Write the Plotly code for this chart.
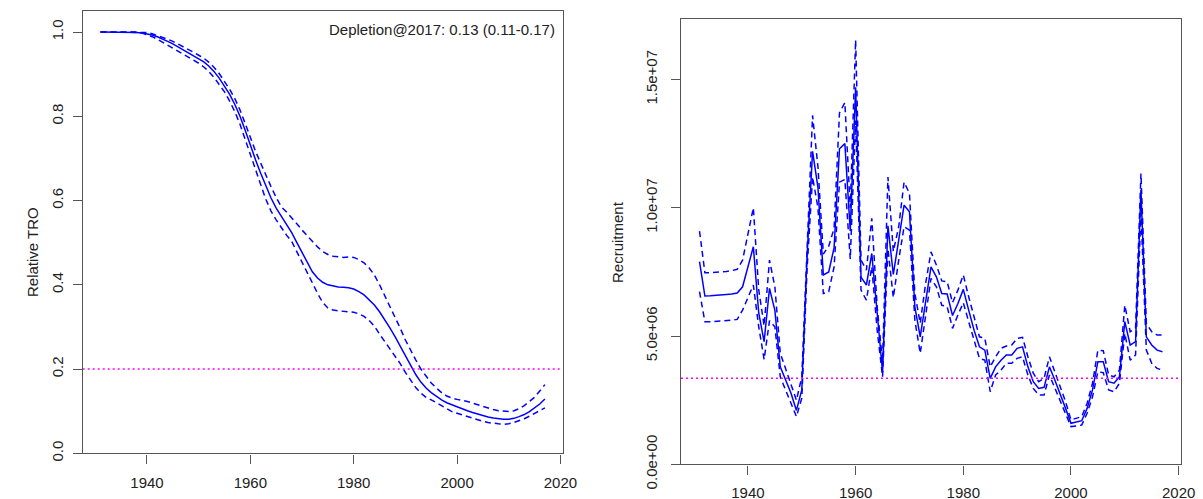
import plotly.graph_objects as go

years = list(range(1931, 2018))

tro_med = [1.000, 1.000, 1.000, 1.000, 1.000, 1.000, 1.000, 0.999, 0.998, 0.996,
           0.993, 0.989, 0.984, 0.978, 0.972, 0.965, 0.958, 0.951, 0.944, 0.937,
           0.929, 0.919, 0.906, 0.890, 0.872, 0.852, 0.828, 0.800, 0.767, 0.730,
           0.697, 0.665, 0.634, 0.606, 0.582, 0.562, 0.545, 0.524, 0.500, 0.476,
           0.452, 0.431, 0.416, 0.406, 0.400, 0.397, 0.395, 0.394, 0.393, 0.390,
           0.384, 0.376, 0.365, 0.352, 0.336, 0.318, 0.298, 0.277, 0.254, 0.231,
           0.208, 0.187, 0.169, 0.155, 0.144, 0.135, 0.127, 0.120, 0.115, 0.111,
           0.106, 0.101, 0.097, 0.093, 0.089, 0.086, 0.084, 0.082, 0.081, 0.081,
           0.083, 0.087, 0.092, 0.099, 0.107, 0.117, 0.129]
tro_up = [1.000, 1.000, 1.000, 1.000, 1.000, 1.000, 1.000, 1.000, 1.000, 0.999,
          0.996, 0.992, 0.988, 0.983, 0.978, 0.972, 0.965, 0.959, 0.952, 0.945,
          0.938, 0.928, 0.916, 0.901, 0.884, 0.864, 0.842, 0.815, 0.783, 0.748,
          0.717, 0.689, 0.660, 0.633, 0.607, 0.585, 0.573, 0.560, 0.545, 0.530,
          0.516, 0.502, 0.490, 0.479, 0.472, 0.468, 0.466, 0.465, 0.466, 0.465,
          0.460, 0.452, 0.440, 0.423, 0.400, 0.375, 0.350, 0.325, 0.297, 0.269,
          0.244, 0.222, 0.200, 0.182, 0.167, 0.155, 0.144, 0.136, 0.131, 0.128,
          0.126, 0.123, 0.119, 0.115, 0.111, 0.107, 0.104, 0.101, 0.100, 0.099,
          0.101, 0.106, 0.113, 0.122, 0.133, 0.148, 0.163]
tro_lo = [1.000, 1.000, 1.000, 1.000, 1.000, 1.000, 1.000, 1.000, 0.998, 0.994,
          0.989, 0.983, 0.976, 0.969, 0.962, 0.954, 0.947, 0.940, 0.933, 0.926,
          0.917, 0.906, 0.892, 0.876, 0.858, 0.836, 0.811, 0.781, 0.745, 0.705,
          0.670, 0.638, 0.603, 0.575, 0.554, 0.535, 0.518, 0.503, 0.478, 0.452,
          0.428, 0.403, 0.380, 0.358, 0.345, 0.340, 0.338, 0.337, 0.336, 0.335,
          0.331, 0.325, 0.315, 0.302, 0.283, 0.266, 0.250, 0.233, 0.213, 0.192,
          0.173, 0.156, 0.143, 0.133, 0.127, 0.120, 0.112, 0.105, 0.099, 0.095,
          0.091, 0.087, 0.083, 0.079, 0.076, 0.073, 0.071, 0.070, 0.069, 0.070,
          0.073, 0.077, 0.082, 0.088, 0.094, 0.101, 0.108]

rec_med = [7.90e6, 6.56e6, 6.57e6, 6.58e6, 6.60e6, 6.62e6, 6.64e6, 6.68e6, 6.92e6, 7.70e6,
           8.48e6, 5.90e6, 4.78e6, 6.86e6, 6.00e6, 3.80e6, 3.29e6, 2.77e6, 2.10e6, 2.90e6,
           8.20e6, 1.22e7, 1.08e7, 7.38e6, 7.50e6, 8.45e6, 1.23e7, 1.25e7, 9.10e6, 1.47e7,
           7.30e6, 6.99e6, 8.22e6, 5.75e6, 3.60e6, 9.30e6, 7.40e6, 8.74e6, 1.01e7, 9.84e6,
           6.14e6, 4.97e6, 6.40e6, 7.70e6, 7.31e6, 6.66e6, 6.64e6, 5.80e6, 6.27e6, 6.82e6,
           6.01e6, 5.23e6, 4.58e6, 4.45e6, 3.35e6, 3.80e6, 4.06e6, 4.26e6, 4.26e6, 4.52e6,
           4.58e6, 3.80e6, 3.22e6, 2.96e6, 3.00e6, 3.80e6, 3.29e6, 2.77e6, 2.18e6, 1.60e6,
           1.66e6, 1.70e6, 2.18e6, 2.90e6, 4.00e6, 4.00e6, 3.22e6, 3.16e6, 3.41e6, 5.56e6,
           4.65e6, 4.78e6, 1.07e7, 4.97e6, 4.65e6, 4.45e6, 4.39e6]
rec_up = [9.09e6, 7.47e6, 7.47e6, 7.48e6, 7.50e6, 7.52e6, 7.55e6, 7.60e6, 7.96e6, 9.00e6,
          1.00e7, 6.80e6, 5.40e6, 7.96e6, 6.92e6, 4.33e6, 3.74e6, 3.16e6, 2.50e6, 3.41e6,
          8.87e6, 1.36e7, 1.16e7, 8.20e6, 8.50e6, 9.20e6, 1.37e7, 1.41e7, 1.00e7, 1.654e7,
          7.96e6, 7.57e6, 9.59e6, 6.14e6, 4.00e6, 1.12e7, 8.30e6, 9.26e6, 1.10e7, 1.056e7,
          6.66e6, 5.50e6, 7.05e6, 8.28e6, 7.77e6, 7.15e6, 7.12e6, 6.30e6, 6.79e6, 7.38e6,
          6.53e6, 5.75e6, 4.97e6, 4.91e6, 3.80e6, 4.19e6, 4.52e6, 4.61e6, 4.65e6, 4.91e6,
          4.95e6, 4.19e6, 3.55e6, 3.22e6, 3.35e6, 4.19e6, 3.61e6, 3.03e6, 2.44e6, 1.73e6,
          1.79e6, 1.86e6, 2.38e6, 3.16e6, 4.45e6, 4.43e6, 3.48e6, 3.41e6, 3.67e6, 6.20e6,
          5.17e6, 5.30e6, 1.134e7, 5.50e6, 5.17e6, 5.04e6, 5.04e6]
rec_lo = [6.73e6, 5.56e6, 5.56e6, 5.57e6, 5.58e6, 5.60e6, 5.62e6, 5.65e6, 6.01e6, 6.50e6,
          6.99e6, 5.36e6, 4.09e6, 5.60e6, 5.36e6, 3.41e6, 2.90e6, 2.38e6, 1.86e6, 2.58e6,
          7.70e6, 1.12e7, 1.00e7, 6.66e6, 6.73e6, 7.70e6, 1.10e7, 1.11e7, 8.00e6, 1.34e7,
          6.79e6, 6.40e6, 7.70e6, 5.23e6, 3.41e6, 8.40e6, 6.50e6, 7.96e6, 9.26e6, 9.13e6,
          5.62e6, 4.33e6, 5.88e6, 7.25e6, 6.92e6, 6.20e6, 6.15e6, 5.30e6, 5.82e6, 6.30e6,
          5.56e6, 4.84e6, 4.13e6, 4.06e6, 2.83e6, 3.48e6, 3.67e6, 3.94e6, 3.94e6, 4.13e6,
          4.19e6, 3.48e6, 2.96e6, 2.70e6, 2.70e6, 3.48e6, 2.96e6, 2.44e6, 1.92e6, 1.47e6,
          1.49e6, 1.53e6, 1.99e6, 2.63e6, 3.61e6, 3.57e6, 2.90e6, 2.83e6, 3.16e6, 5.10e6,
          4.06e6, 4.26e6, 9.80e6, 4.45e6, 3.94e6, 3.74e6, 3.67e6]

tro_ref = 0.2
rec_ref = 3.35e6
x_ticks = [1940, 1960, 1980, 2000, 2020]
tro_ticks = [0.0, 0.2, 0.4, 0.6, 0.8, 1.0]
rec_ticks = [0, 5e6, 1e7, 1.5e7]
rec_tick_text = ["0.0e+00", "5.0e+06", "1.0e+07", "1.5e+07"]
depl_text = "Depletion@2017: 0.13 (0.11-0.17)"

BLUE = "#0000FF"
MAG = "#FF00FF"
AX = "#555555"
FONT = "Liberation Sans, Arial, sans-serif"
DASH = "6px,4px"

fig = go.Figure()

def add_panel(med, up, lo, ref, xa, ya):
    fig.add_trace(go.Scatter(x=years, y=up, mode="lines", xaxis=xa, yaxis=ya,
                             line=dict(color=BLUE, width=1.5, dash=DASH), showlegend=False))
    fig.add_trace(go.Scatter(x=years, y=lo, mode="lines", xaxis=xa, yaxis=ya,
                             line=dict(color=BLUE, width=1.5, dash=DASH), showlegend=False))
    fig.add_trace(go.Scatter(x=years, y=med, mode="lines", xaxis=xa, yaxis=ya,
                             line=dict(color=BLUE, width=1.5), showlegend=False))
    fig.add_trace(go.Scatter(x=[1927.56, 2020.44], y=[ref, ref], mode="lines", xaxis=xa, yaxis=ya,
                             line=dict(color=MAG, width=1.5, dash="2px,3px"), showlegend=False))

add_panel(tro_med, tro_up, tro_lo, tro_ref, "x", "y")
add_panel(rec_med, rec_up, rec_lo, rec_ref, "x2", "y2")

W, H = 1203, 499
xrange_ = [1927.56, 2020.44]

axis_common = dict(showline=True, linecolor=AX, linewidth=1.4, mirror=True,
                   ticks="outside", ticklen=9, tickcolor=AX, tickwidth=1.2,
                   showgrid=False, zeroline=False, automargin=False,
                   tickfont=dict(family=FONT, size=15, color="#222"))

fig.update_layout(
    template="none",
    width=W, height=H,
    margin=dict(l=0, r=0, t=0, b=0, autoexpand=False),
    plot_bgcolor="white", paper_bgcolor="white",
    xaxis=dict(domain=[82.7 / W, 562.7 / W], range=xrange_, tickvals=x_ticks,
               anchor="y", ticklabelstandoff=6, **axis_common),
    yaxis=dict(domain=[(H - 453.3) / H, (H - 11) / H], range=[0, 1.05],
               tickvals=tro_ticks, tickformat=".1f", tickangle=-90,
               anchor="x", ticklabelstandoff=4, **axis_common),
    xaxis2=dict(domain=[681 / W, 1181 / W], range=xrange_, tickvals=x_ticks,
                anchor="y2", ticklabelstandoff=5, **axis_common),
    yaxis2=dict(domain=[(H - 464.3) / H, (H - 19) / H], range=[0, 1.736e7],
                tickvals=rec_ticks, ticktext=rec_tick_text, tickangle=-90,
                anchor="x2", ticklabelstandoff=8, **axis_common),
    annotations=[
        dict(text=depl_text, xref="paper", yref="paper", x=557 / W, y=(H - 30) / H,
             xanchor="right", yanchor="middle", showarrow=False,
             font=dict(family=FONT, size=15, color="#222")),
        dict(text="Relative TRO", xref="paper", yref="paper", x=32 / W, y=(H - 252) / H,
             xanchor="center", yanchor="middle", textangle=-90, showarrow=False,
             font=dict(family=FONT, size=15, color="#222")),
        dict(text="Recruitment", xref="paper", yref="paper", x=617 / W, y=(H - 242) / H,
             xanchor="center", yanchor="middle", textangle=-90, showarrow=False,
             font=dict(family=FONT, size=15, color="#222")),
    ],
)

fig.write_html("out.html")
